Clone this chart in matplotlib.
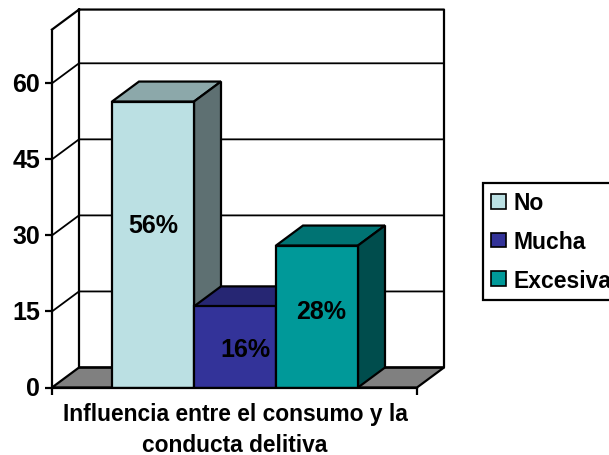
import matplotlib
matplotlib.use('Agg')
import matplotlib.pyplot as plt
from matplotlib.patches import Patch
from matplotlib.transforms import ScaledTranslation

plt.rcParams['font.family'] = ['Liberation Sans', 'DejaVu Sans']
plt.rcParams['font.weight'] = 'bold'

categories = ['No', 'Mucha', 'Excesiva']
values = [56.4, 16, 28]
labels = ['56%', '16%', '28%']
label_x = [0, 0.13, 0.05]
label_y = [32, 7.5, 15]
yticks = [0, 15, 30, 45, 60]
front_colors = ['#BBE0E3', '#333399', '#009999']
top_colors = ['#8CA8AA', '#262673', '#007373']
side_colors = ['#5E7072', '#1A1A4D', '#004D4D']

W, H = 609, 456
# oblique depth of the 3d box, in data units
dx = 27 / 82
dy = 20 / 5.07
ymax = 70.6
lw = 1.6

fig = plt.figure(figsize=(W / 100, H / 100), dpi=100)
ax = fig.add_axes([52 / W, (H - 388.5) / H, (444 - 52) / W, 378 / H])
xmin = -0.5 - 60 / 82
xmax = -0.5 + (444 - 112) / 82
floor_right = -0.5 + (417 - 112) / 82
ax.set_xlim(xmin, xmax)
ax.set_ylim(0, 378 / 5.07)

# floor
ax.fill([xmin, floor_right, xmax, xmin + dx], [0, 0, dy, dy], facecolor='#808080',
        edgecolor='black', lw=lw, clip_on=False, zorder=1)

# walls and gridlines
for t in yticks[1:]:
    ax.plot([xmin, xmin + dx, xmax], [t, t + dy, t + dy], color='black', lw=1.3, clip_on=False, zorder=1)
ax.plot([xmin, xmin + dx, xmax, xmax, xmin + dx, xmin + dx],
        [ymax, ymax + dy, ymax + dy, dy, dy, ymax + dy], color='black', lw=lw, clip_on=False, zorder=1)

# bars, each with its top and side faces
for i, v in enumerate(values):
    ax.fill([i - 0.5, i - 0.5 + dx, i + 0.5 + dx, i + 0.5], [v, v + dy, v + dy, v],
            facecolor=top_colors[i], edgecolor='black', lw=lw, zorder=2 + i)
    ax.fill([i + 0.5, i + 0.5 + dx, i + 0.5 + dx, i + 0.5], [0, dy, v + dy, v],
            facecolor=side_colors[i], edgecolor='black', lw=lw, zorder=2 + i)
    ax.bar(i, v, width=1, color=front_colors[i], edgecolor='black', lw=lw, zorder=2 + i)
    ax.text(i + label_x[i], label_y[i], labels[i], ha='center', va='center', fontsize=18, zorder=10)

for s in ['top', 'right']:
    ax.spines[s].set_visible(False)
ax.patch.set_visible(False)
ax.spines['left'].set_bounds(0, ymax)
ax.spines['bottom'].set_bounds(xmin, floor_right)
ax.spines['left'].set_linewidth(lw)
ax.spines['bottom'].set_linewidth(lw)
ax.spines['left'].set_zorder(20)
ax.spines['bottom'].set_zorder(20)

ax.set_yticks(yticks)
ax.set_xticks([xmin, floor_right])
ax.set_xticklabels([])
ax.tick_params(axis='y', labelsize=18, length=5, width=lw, pad=3.5)
ax.tick_params(axis='x', length=5, width=lw)
# nudge the y labels up so they sit centred on their ticks
for lab in ax.get_yticklabels():
    lab.set_transform(lab.get_transform() + ScaledTranslation(0, 1.5 / 100, fig.dpi_scale_trans))
fig.text(235 / W, 1 - 430 / H, 'Influencia entre el consumo y la\nconducta delitiva', ha='center', va='center',
         fontsize=16.4, linespacing=1.47)

handles = [Patch(facecolor=c, edgecolor='black', lw=1.2) for c in front_colors]
fig.legend(handles, categories, loc='upper left', bbox_to_anchor=(483 / W, 1 - 184 / H), fontsize=16.5,
           frameon=True, fancybox=False, framealpha=1, edgecolor='black', handlelength=0.62, handleheight=0.62,
           handletextpad=0.35, labelspacing=0.68, borderpad=0.37, borderaxespad=0).get_frame().set_linewidth(lw)

fig.savefig('out.png', dpi=100)
